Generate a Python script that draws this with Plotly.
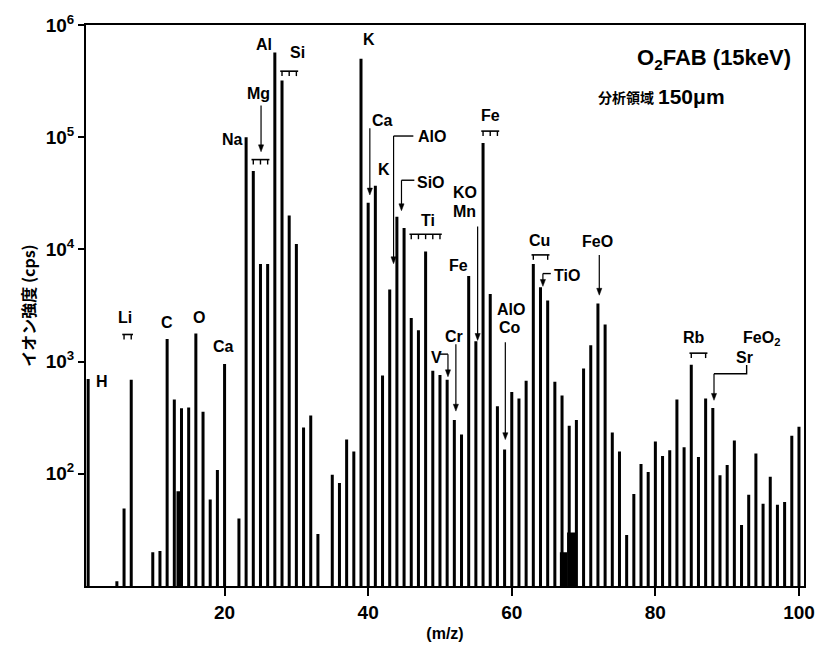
import plotly.graph_objects as go

# ---------------- data ----------------
mz = [1, 5, 6, 7, 10, 11, 12, 13, 14, 15, 16, 17, 18, 19, 20, 22, 23, 24, 25, 26,
      27, 28, 29, 30, 31, 32, 33, 35, 36, 37, 38, 39, 40, 41, 42, 43, 44, 45, 46, 47,
      48, 49, 50, 51, 52, 53, 54, 55, 56, 57, 58, 59, 60, 61, 62, 63, 64, 65, 66, 67,
      68, 69, 70, 71, 72, 73, 74, 75, 76, 77, 78, 79, 80, 81, 82, 83, 84, 85, 86, 87,
      88, 89, 90, 91, 92, 93, 94, 95, 96, 97, 98, 99, 100]
intensity = [700, 11, 49, 690, 20, 20.5, 1590, 460, 384, 390, 1780, 357, 59, 108, 950, 40,
             1.0e5, 5.0e4, 7400, 7400, 5.7e5, 3.2e5, 2.0e4, 1.12e4, 258, 330, 29, 98, 83,
             202, 158, 5.0e5, 2.6e4, 3.7e4, 750, 4400, 1.95e4, 1.55e4, 2450, 1900, 9600,
             830, 760, 690, 302, 224, 5800, 1520, 8.9e4, 4000, 400, 165, 535, 470, 675,
             7400, 4600, 3500, 660, 500, 268, 302, 870, 1400, 3300, 2140, 233, 158, 28.5,
             66, 122, 104, 194, 144, 162, 460, 172, 935, 141, 470, 385, 97, 120, 198, 35,
             65, 152, 54, 94, 53, 56, 218, 262]

# unresolved (filled) background regions
blob_mz = [13.75, 67.2, 68.4]
blob_width = [0.9, 1.0, 1.4]
blob_intensity = [70, 20, 30]

xticks = [20, 40, 60, 80, 100]
yticks = [1e2, 1e3, 1e4, 1e5, 1e6]
yticktext = ["10<sup>2</sup>", "10<sup>3</sup>", "10<sup>4</sup>", "10<sup>5</sup>", "10<sup>6</sup>"]

# ---------------- figure ----------------
L, R, T, B = 86, 812, 15, 586
W, H = 827, 656
SANS = "Liberation Sans, Arial, sans-serif"


def PX(x):
    return (x - L) / (R - L)


def PY(y):
    return (B - y) / (B - T)


fig = go.Figure()
fig.add_trace(go.Bar(x=mz, y=intensity, width=[0.42] * len(mz),
                     marker=dict(color="black", line=dict(width=0)), hoverinfo="x+y"))
fig.add_trace(go.Bar(x=blob_mz, y=blob_intensity, width=blob_width,
                     marker=dict(color="black", line=dict(width=0)), hoverinfo="skip"))

annotations = []
shapes = []


def label(text, x, y, size=16, xanchor="center", family=SANS):
    annotations.append(dict(text=text, x=PX(x), y=PY(y), xref="paper", yref="paper",
                            showarrow=False, xanchor=xanchor, yanchor="middle",
                            font=dict(family=family, size=size, color="black", weight="bold")))


def seg(points, width=1.4):
    path = "M " + " L ".join(f"{PX(x):.5f},{PY(y):.5f}" for x, y in points)
    shapes.append(dict(type="path", path=path, xref="paper", yref="paper",
                       line=dict(color="black", width=width)))


def arrow(x0, y0, x1, y1):
    # vertical downward arrow: tail (x0,y0) -> head (x1,y1), reference pixels
    seg([(x0, y0), (x1, y1 - 4)], width=1.2)
    tri = (f"M {PX(x1):.5f},{PY(y1):.5f} L {PX(x1 - 2.6):.5f},{PY(y1 - 7):.5f} "
           f"L {PX(x1 + 2.6):.5f},{PY(y1 - 7):.5f} Z")
    shapes.append(dict(type="path", path=tri, xref="paper", yref="paper",
                       fillcolor="black", line=dict(color="black", width=0.5)))


def comb(masses, y, tick=5):
    # bracket over a group of isotopes (x in m/z, y in reference pixels)
    x0, x1 = min(masses) - 0.25, max(masses) + 0.25
    shapes.append(dict(type="line", x0=x0, x1=x1, y0=PY(y), y1=PY(y), xref="x", yref="paper",
                       line=dict(color="black", width=1.6)))
    for m in masses:
        shapes.append(dict(type="line", x0=m, x1=m, y0=PY(y), y1=PY(y + tick), xref="x",
                           yref="paper", line=dict(color="black", width=1.4)))


# element labels
label("H", 102, 378)
label("Li", 125, 313)
comb([6, 7], 330)
label("C", 168, 318)
label("O", 200, 313)
label("Ca", 225, 342)
label("Na", 234, 132)
label("Mg", 260, 85)
arrow(263, 97, 263, 144)
comb([24, 25, 26], 152)
label("Al", 266, 35)
label("Si", 300, 43)
comb([28, 29, 30], 62)
label("K", 372, 30)
label("Ca", 386, 112)
arrow(373, 120, 373, 188)
label("K", 387, 162)
label("AlO", 436, 128)
seg([(417, 128), (397, 128)])
arrow(397, 128, 397, 258)
label("SiO", 435, 175)
seg([(418, 173), (405, 173)])
arrow(405, 173, 405, 204)
label("Ti", 432, 214)
comb([46, 47, 48, 49, 50], 228)
label("KO", 469, 185)
label("Mn", 469, 205)
arrow(482, 220, 482, 336)
label("Fe", 463, 260)
label("Fe", 495, 107)
comb([56, 57, 58], 123)
label("Cr", 458, 332)
arrow(460, 340, 460, 408)
label("V", 440, 353)
seg([(444, 350), (452, 350)])
arrow(452, 350, 452, 373)
label("AlO", 516, 305)
label("Co", 515, 323)
arrow(510, 338, 510, 437)
label("Cu", 545, 234)
comb([63, 65], 249)
label("TiO", 572, 270)
seg([(556, 268), (548, 268)])
arrow(548, 268, 548, 281)
label("FeO", 603, 235)
arrow(605, 249, 605, 290)
label("Rb", 701, 333)
comb([85, 87], 349)
label("FeO<sub>2</sub>", 769, 334)
label("Sr", 752, 353)
seg([(754, 361), (754, 370), (721, 370)])
arrow(721, 370, 721, 397)

# header text
label("O<sub>2</sub>FAB (15keV)", 801, 50, size=22, xanchor="right")
label("分析領域", 602, 88, size=14, xanchor="left", family="Noto Sans CJK JP")
label("150μm", 662, 88, size=21, xanchor="left")

fig.update_layout(
    width=W, height=H,
    margin=dict(l=L, r=W - R, t=T, b=H - B),
    plot_bgcolor="white", paper_bgcolor="white",
    showlegend=False, barmode="overlay",
    annotations=annotations, shapes=shapes,
    xaxis=dict(range=[0.7, 100.7], tickvals=xticks, ticks="outside", ticklen=8, tickwidth=2,
               tickcolor="black", showline=True, linewidth=2, linecolor="black", mirror=True,
               showgrid=False, zeroline=False,
               tickfont=dict(family=SANS, size=19, color="black", weight="bold"),
               title=dict(text="(m/z)", standoff=6,
                          font=dict(family=SANS, size=16, color="black", weight="bold"))),
    yaxis=dict(type="log", range=[1, 6], tickvals=yticks, ticktext=yticktext, ticks="outside",
               ticklen=6, tickwidth=2, tickcolor="black", showline=True, linewidth=2,
               linecolor="black", mirror=True, showgrid=False, zeroline=False,
               tickfont=dict(family=SANS, size=19, color="black", weight="bold"),
               title=dict(text="イオン強度 (cps)", standoff=6,
                          font=dict(family="Noto Sans CJK JP", size=16, color="black",
                                    weight="bold"))),
)

fig.write_html("out.html")
